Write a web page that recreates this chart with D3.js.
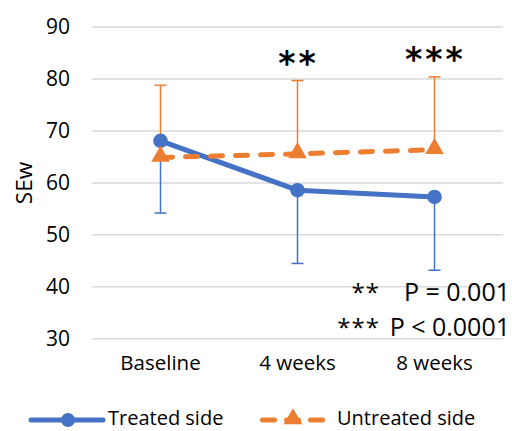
<!DOCTYPE html>
<html>
<head>
<meta charset="utf-8">
<script src="https://cdn.jsdelivr.net/npm/d3@7"></script>
<style>
  body { margin: 0; background: #fff; }
  svg { display: block; font-family: "Open Sans", sans-serif; }
</style>
</head>
<body>
<div id="chart"></div>
<script>
// datos
const categories = ['Baseline', '4 weeks', '8 weeks'];
const treated = [68.0, 58.5, 57.2];
const treatedLow = [54.1, 44.4, 43.1];      // extremo inferior de la barra de error
const untreated = [64.8, 65.5, 66.3];
const untreatedHigh = [78.7, 79.6, 80.3];   // extremo superior de la barra de error
const yTicks = [30, 40, 50, 60, 70, 80, 90];
const stars = ['', '**', '***'];
const notes = [['**', 'P = 0.001'], ['***', 'P < 0.0001']];

const blue = '#4472C4', orange = '#ED7D31';
const W = 512, H = 431;
const margin = {top: 26.5, right: 9, bottom: 92.7, left: 92};

const svg = d3.select('#chart').append('svg')
    .attr('width', W)
    .attr('height', H);

const x = d3.scaleBand()
    .domain(categories)
    .range([margin.left, W - margin.right]);

const y = d3.scaleLinear()
    .domain([30, 90])
    .range([H - margin.bottom, margin.top]);

const cx = d => x(d) + x.bandwidth() / 2;

// eje Y con rejilla
svg.append('g')
    .attr('transform', 'translate(' + margin.left + ',0)')
    .call(d3.axisLeft(y).tickValues(yTicks).tickSize(-(W - margin.left - margin.right)).tickPadding(22))
    .call(g => g.select('.domain').remove())
    .call(g => g.selectAll('.tick line').attr('stroke', '#d9d9d9').attr('stroke-width', 1.5))
    .call(g => g.selectAll('.tick text')
        .attr('fill', '#000')
        .style('font-size', '21px')
        .style('font-family', '"Open Sans", sans-serif'));

// eje X
svg.append('g')
    .attr('transform', 'translate(0,' + (H - margin.bottom) + ')')
    .call(d3.axisBottom(x).tickSize(0).tickPadding(17))
    .call(g => g.select('.domain').remove())
    .call(g => g.selectAll('.tick text')
        .attr('fill', '#000')
        .style('font-size', '20.5px')
        .style('font-family', '"Open Sans", sans-serif'));

// titulo eje Y
svg.append('text')
    .attr('transform', 'translate(32,183) rotate(-90)')
    .attr('text-anchor', 'middle')
    .style('font-size', '22.5px')
    .text('SEw');

// barras de error
function errorBars(vals, ends, color) {
    const g = svg.append('g').attr('stroke', color).attr('stroke-width', 1.5);
    categories.forEach((c, i) => {
        g.append('line')
            .attr('x1', cx(c)).attr('x2', cx(c))
            .attr('y1', y(vals[i])).attr('y2', y(ends[i]));
        g.append('line')
            .attr('x1', cx(c) - 6).attr('x2', cx(c) + 6)
            .attr('y1', y(ends[i])).attr('y2', y(ends[i]));
    });
}
errorBars(untreated, untreatedHigh, orange);
errorBars(treated, treatedLow, blue);

const line = d3.line()
    .x((d, i) => cx(categories[i]))
    .y(d => y(d));

svg.append('path')
    .datum(treated)
    .attr('fill', 'none')
    .attr('stroke', blue)
    .attr('stroke-width', 5)
    .attr('stroke-linecap', 'round')
    .attr('d', line);

svg.append('path')
    .datum(untreated)
    .attr('fill', 'none')
    .attr('stroke', orange)
    .attr('stroke-width', 5)
    .attr('stroke-linecap', 'round')
    .attr('stroke-dasharray', '12,13')
    .attr('d', line);

const tri = d3.symbol().type(d3.symbolTriangle).size(150);

svg.selectAll('.dot')
    .data(treated)
    .enter()
    .append('circle')
    .attr('class', 'dot')
    .attr('cx', (d, i) => cx(categories[i]))
    .attr('cy', d => y(d))
    .attr('r', 7.3)
    .attr('fill', blue);

svg.selectAll('.tri')
    .data(untreated)
    .enter()
    .append('path')
    .attr('class', 'tri')
    .attr('d', tri)
    .attr('transform', (d, i) => 'translate(' + cx(categories[i]) + ',' + (y(d) - 1) + ')')
    .attr('fill', orange);

// asteriscos de significacion
svg.selectAll('.star')
    .data(stars)
    .enter()
    .append('text')
    .attr('class', 'star')
    .attr('x', (d, i) => cx(categories[i]) + 1)
    .attr('y', (d, i) => y(untreatedHigh[i]) - 6)
    .attr('text-anchor', 'middle')
    .style('font-family', '"DejaVu Sans", sans-serif')
    .style('font-weight', '600')
    .style('font-size', '33px')
    .style('letter-spacing', '3px')
    .text(d => d);

// notas de P
notes.forEach((n, i) => {
    svg.append('text')
        .attr('x', 380).attr('y', 301 + i * 35)
        .attr('text-anchor', 'end')
        .style('font-size', '24px')
        .style('letter-spacing', '1px')
        .text(n[0]);
    svg.append('text')
        .attr('x', 510).attr('y', 301 + i * 35)
        .attr('text-anchor', 'end')
        .style('font-size', '25px')
        .text(n[1]);
});

// leyenda
const legY = 420;
const leg = svg.append('g');
leg.append('line')
    .attr('x1', 31).attr('x2', 103).attr('y1', legY).attr('y2', legY)
    .attr('stroke', blue).attr('stroke-width', 5).attr('stroke-linecap', 'round');
leg.append('circle').attr('cx', 68).attr('cy', legY).attr('r', 7).attr('fill', blue);
leg.append('text').attr('x', 108).attr('y', legY + 5).style('font-size', '20px').text('Treated side');

leg.append('line')
    .attr('x1', 262.5).attr('x2', 324).attr('y1', legY).attr('y2', legY)
    .attr('stroke', orange).attr('stroke-width', 5).attr('stroke-linecap', 'round')
    .attr('stroke-dasharray', '12,12');
leg.append('path').attr('d', tri).attr('transform', 'translate(293,' + (legY - 1) + ')').attr('fill', orange);
leg.append('text').attr('x', 337).attr('y', legY + 5).style('font-size', '20px').text('Untreated side');
</script>
</body>
</html>
